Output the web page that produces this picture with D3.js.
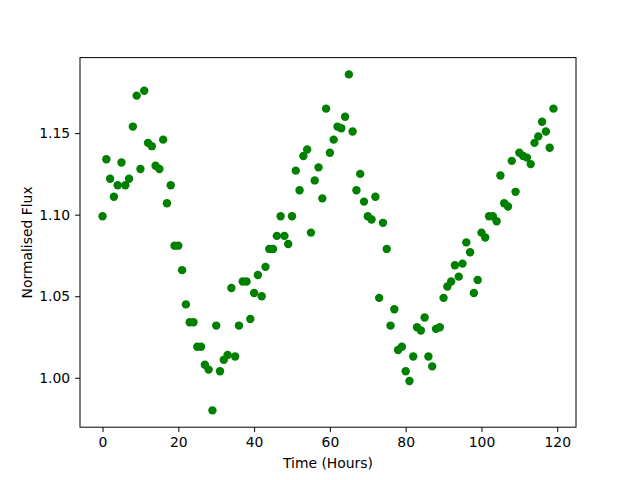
<!DOCTYPE html>
<html>
<head>
<meta charset="utf-8">
<script src="https://cdn.jsdelivr.net/npm/d3@7"></script>
<style>
  body { margin: 0; background: #fff; }
  svg { display: block; font-family: "DejaVu Sans", sans-serif; }
</style>
</head>
<body>
<div id="chart"></div>
<script>
// time in hours (0..119) and normalised flux
const hours = d3.range(0, 120);
const flux = [
  1.099, 1.134, 1.122, 1.111, 1.118, 1.132, 1.118, 1.122, 1.154, 1.173,
  1.128, 1.176, 1.144, 1.142, 1.130, 1.128, 1.146, 1.107, 1.118, 1.081,
  1.081, 1.066, 1.045, 1.034, 1.034, 1.019, 1.019, 1.008, 1.005, 0.980,
  1.032, 1.004, 1.011, 1.014, 1.055, 1.013, 1.032, 1.059, 1.059, 1.036,
  1.052, 1.063, 1.050, 1.068, 1.079, 1.079, 1.087, 1.099, 1.087, 1.082,
  1.099, 1.127, 1.115, 1.136, 1.140, 1.089, 1.121, 1.129, 1.110, 1.165,
  1.138, 1.146, 1.154, 1.153, 1.160, 1.186, 1.151, 1.115, 1.125, 1.108,
  1.099, 1.097, 1.111, 1.049, 1.095, 1.079, 1.032, 1.042, 1.017, 1.019,
  1.004, 0.998, 1.013, 1.031, 1.029, 1.037, 1.013, 1.007, 1.030, 1.031,
  1.049, 1.056, 1.059, 1.069, 1.062, 1.070, 1.083, 1.077, 1.052, 1.060,
  1.089, 1.086, 1.099, 1.099, 1.096, 1.124, 1.107, 1.105, 1.133, 1.114,
  1.138, 1.136, 1.135, 1.131, 1.144, 1.148, 1.157, 1.151, 1.141, 1.165
];
const xTicks = [0, 20, 40, 60, 80, 100, 120];
const yTicks = [1.00, 1.05, 1.10, 1.15];
const yTickLabels = ['1.00', '1.05', '1.10', '1.15'];

const W = 640, H = 480;
const margin = { top: 57.6, right: 64, bottom: 52.8, left: 80 };
const width = W - margin.left - margin.right;
const height = H - margin.top - margin.bottom;

const svg = d3.select('#chart').append('svg')
  .attr('width', W)
  .attr('height', H);

const g = svg.append('g')
  .attr('transform', `translate(${margin.left},${margin.top})`);

// matplotlib style 5% padding around the data
function padded(ext) {
  const pad = (ext[1] - ext[0]) * 0.05;
  return [ext[0] - pad, ext[1] + pad];
}

const x = d3.scaleLinear()
  .domain(padded(d3.extent(hours)))
  .range([0, width]);

const y = d3.scaleLinear()
  .domain(padded(d3.extent(flux)))
  .range([height, 0]);

// points
g.append('g')
  .selectAll('circle')
  .data(hours)
  .enter().append('circle')
  .attr('cx', (d, i) => x(hours[i]))
  .attr('cy', (d, i) => y(flux[i]))
  .attr('r', 4.2)
  .attr('fill', '#008000');

// frame
g.append('rect')
  .attr('width', width)
  .attr('height', height)
  .attr('fill', 'none')
  .attr('stroke', '#000')
  .attr('stroke-width', 1);

// X axis
const xAxis = g.append('g')
  .attr('transform', `translate(0,${height})`)
  .call(d3.axisBottom(x).tickValues(xTicks).tickSize(4.9).tickPadding(4.9).tickFormat(d3.format('d')));

// Y axis
const yAxis = g.append('g')
  .call(d3.axisLeft(y).tickValues(yTicks).tickSize(4.9).tickPadding(4.9)
    .tickFormat((d, i) => yTickLabels[i]));

[xAxis, yAxis].forEach(a => {
  a.select('.domain').remove();
  a.selectAll('line').attr('stroke', '#000').attr('stroke-width', 1);
  a.selectAll('text')
    .attr('fill', '#000')
    .style('font-family', '"DejaVu Sans", sans-serif')
    .style('font-size', '13.9px');
});

// labels
svg.append('text')
  .attr('x', margin.left + width / 2)
  .attr('y', 468)
  .attr('text-anchor', 'middle')
  .style('font-size', '13.9px')
  .text('Time (Hours)');

svg.append('text')
  .attr('transform', `translate(32,${margin.top + height / 2}) rotate(-90)`)
  .attr('text-anchor', 'middle')
  .style('font-size', '13.9px')
  .text('Normalised Flux');
</script>
</body>
</html>
